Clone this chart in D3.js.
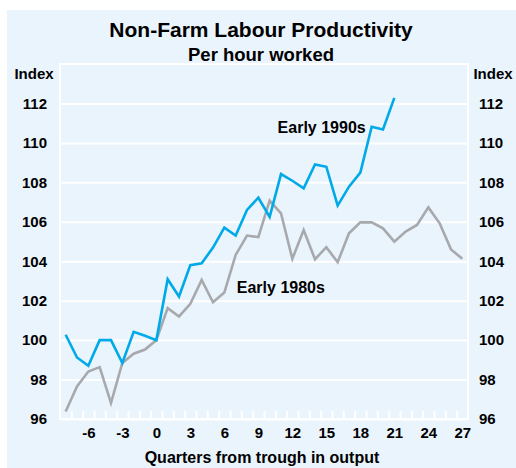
<!DOCTYPE html>
<html>
<head>
<meta charset="utf-8">
<script src="https://cdn.jsdelivr.net/npm/d3@7"></script>
<style>
 body{margin:0;background:#fff;}
 text{font-family:Arial,"Liberation Sans",Helvetica,sans-serif;font-weight:bold;fill:#000;}
 .grid line{stroke:#fff;stroke-width:2;}
 .line{fill:none;stroke-width:2.6;stroke-linejoin:miter;}
</style>
</head>
<body>
<div id="chartDiv"></div>
<script>
//Chart values
var quartersA = d3.range(-8,22);		//Early 1990s runs -8 .. 21
var earlyNineties = [100.27,99.12,98.70,100.0,100.0,98.84,100.42,100.22,100.0,103.09,
 102.21,103.8,103.9,104.69,105.7,105.3,106.6,107.22,106.25,108.42,
 108.08,107.7,108.91,108.79,106.82,107.78,108.49,110.82,110.68,112.28];
var quartersB = d3.range(-8,28);		//Early 1980s runs -8 .. 27
var earlyEighties = [96.38,97.65,98.41,98.63,96.81,98.84,99.31,99.52,100.0,101.62,
 101.2,101.84,103.05,101.92,102.41,104.32,105.3,105.22,107.07,106.43,
 104.12,105.58,104.1,104.71,103.95,105.42,105.97,105.97,105.67,104.99,
 105.5,105.84,106.73,105.92,104.6,104.12];
var xTicks = [-6,-3,0,3,6,9,12,15,18,21,24,27];
var yTicks = [96,98,100,102,104,106,108,110,112];

var W = 516, H = 468;
var margin = {top: 64, right: 48, bottom: 49, left: 60};
var width  = W - margin.left - margin.right;
var height = H - margin.top - margin.bottom;

var xScale = d3.scaleLinear().domain([-8.5,27.5]).range([0,width]);
var yScale = d3.scaleLinear().domain([96,114]).range([height,0]);

var root = d3.select("#chartDiv").append("svg")
 .attr("width",W).attr("height",H);

root.append("rect")			//Light blue backdrop
 .attr("x",7).attr("y",10)
 .attr("width",W-7).attr("height",H-10)
 .attr("fill","#eaf4fd");

root.append("text")			//Titles
 .attr("x",261).attr("y",37)
 .attr("text-anchor","middle")
 .style("font-size","21px")
 .text("Non-Farm Labour Productivity");
root.append("text")
 .attr("x",261).attr("y",61)
 .attr("text-anchor","middle")
 .style("font-size","18.5px")
 .text("Per hour worked");

root.append("text")			//Unit labels on both sides
 .attr("x",34).attr("y",79)
 .attr("text-anchor","middle")
 .style("font-size","15px")
 .text("Index");
root.append("text")
 .attr("x",493).attr("y",79)
 .attr("text-anchor","middle")
 .style("font-size","15px")
 .text("Index");

var svg = root.append("g")
 .attr("transform","translate(" + margin.left + "," + margin.top + ")");

svg.append("g")				//Horizontal grid
 .attr("class","grid")
 .call(d3.axisLeft(yScale).tickValues(yTicks).tickSize(-width).tickFormat(""))
 .call(g => g.select(".domain").remove());

svg.append("g")				//Left tick labels
 .call(d3.axisLeft(yScale).tickValues(yTicks).tickSize(0).tickPadding(13))
 .call(g => g.select(".domain").remove())
 .selectAll("text").style("font-size","15px");

svg.append("g")				//Right tick labels
 .attr("transform","translate(" + width + ",0)")
 .call(d3.axisRight(yScale).tickValues(yTicks).tickSize(0).tickPadding(11))
 .call(g => g.select(".domain").remove())
 .selectAll("text").style("font-size","15px");

svg.append("rect")			//White frame round the plot
 .attr("width",width).attr("height",height)
 .attr("fill","none").attr("stroke","#fff").attr("stroke-width",2);

svg.append("g")				//Quarter ticks between points
 .attr("transform","translate(0," + height + ")")
 .call(d3.axisBottom(xScale).tickValues(d3.range(-7.5,27,1)).tickSizeInner(-8).tickSizeOuter(0).tickFormat(""))
 .call(g => g.select(".domain").remove())
 .selectAll("line").attr("stroke","#fff").attr("stroke-width",2);

svg.append("g")				//x labels, plain hyphen for negatives
 .attr("transform","translate(0," + height + ")")
 .call(d3.axisBottom(xScale).tickValues(xTicks).tickSize(0).tickPadding(8)
  .tickFormat(function(d){ return String(d); }))
 .call(g => g.select(".domain").remove())
 .selectAll("text").style("font-size","15px");

svg.append("text")
 .attr("x",262-margin.left).attr("y",H-margin.top-5)
 .attr("text-anchor","middle")
 .style("font-size","16px")
 .text("Quarters from trough in output");

var lineFor = function(qs){
 return d3.line()
  .x(function(d,i){ return xScale(qs[i]); })
  .y(function(d){ return yScale(d); });
};

svg.append("path")			//Early 1980s (grey)
 .datum(earlyEighties)
 .attr("class","line")
 .attr("stroke","#a7a9ac")
 .attr("d",lineFor(quartersB));

svg.append("path")			//Early 1990s (blue)
 .datum(earlyNineties)
 .attr("class","line")
 .attr("stroke","#00a9e8")
 .attr("d",lineFor(quartersA));

svg.append("text")			//Series labels
 .attr("x",xScale(10.7)).attr("y",yScale(110.5))
 .style("font-size","16px")
 .text("Early 1990s");
svg.append("text")
 .attr("x",xScale(7.1)).attr("y",yScale(102.4))
 .style("font-size","16px")
 .text("Early 1980s");
</script>
</body>
</html>
